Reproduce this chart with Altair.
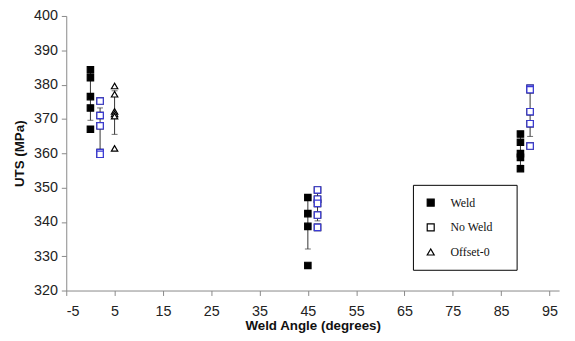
import altair as alt
import pandas as pd

groups = ["Weld", "No Weld", "Offset-0"]

# points: (group, angle, UTS)
weld_x = [0, 45, 89]
weld_vals = [
    [384.3, 382.0, 376.5, 373.2, 367.0],
    [347.1, 342.4, 338.7, 327.3],
    [365.6, 363.2, 359.9, 358.8, 355.5],
]
noweld_x = [2, 47, 91]
noweld_vals = [
    [375.2, 371.0, 368.0, 360.2, 359.7],
    [349.3, 346.6, 345.4, 342.0, 338.4],
    [378.9, 378.5, 372.1, 368.6, 362.1],
]
offset_x = [5]
offset_vals = [
    [379.6, 377.2, 372.2, 371.5, 370.8, 361.4],
]

# error bars (low, high)
weld_err = [(369.6, 383.5), (332.1, 346.5), (356.5, 364.8)]
noweld_err = [(360.2, 373.2), (340.3, 348.5), (364.9, 379.0)]
offset_err = [(365.5, 378.2)]

x_ticks = [-5, 5, 15, 25, 35, 45, 55, 65, 75, 85, 95]
y_ticks = [320, 330, 340, 350, 360, 370, 380, 390, 400]

rows, erows = [], []
for g, xs, vals, errs in [
    ("Weld", weld_x, weld_vals, weld_err),
    ("No Weld", noweld_x, noweld_vals, noweld_err),
    ("Offset-0", offset_x, offset_vals, offset_err),
]:
    for x, vs, (lo, hi) in zip(xs, vals, errs):
        for v in vs:
            rows.append({"group": g, "angle": x, "uts": v})
        erows.append({"group": g, "angle": x, "low": lo, "high": hi})

pts = pd.DataFrame(rows)
errs = pd.DataFrame(erows)

xscale = alt.Scale(domain=[-5, 97], nice=False, zero=False)
yscale = alt.Scale(domain=[320, 400], nice=False, zero=False)

xaxis = alt.Axis(values=x_ticks, title="Weld Angle (degrees)", grid=False,
                 labelExpr="'' + datum.value")
yaxis = alt.Axis(values=y_ticks, title="UTS (MPa)", grid=False)

err_layer = alt.Chart(errs).mark_errorbar(ticks=alt.MarkConfig(size=6, color="#333333"), color="#333333", thickness=1).encode(
    x=alt.X("angle:Q", scale=xscale, axis=xaxis),
    y=alt.Y("low:Q", scale=yscale, axis=yaxis),
    y2="high:Q",
)

pad_txt = "\u2002\u2002\u200b"
leg = alt.Legend(title=None, labelExpr="datum.label + '" + pad_txt + "'")

pt_layer = alt.Chart(pts).mark_point(filled=False, size=42, strokeWidth=1.2, opacity=1).encode(
    x=alt.X("angle:Q", scale=xscale, axis=xaxis),
    y=alt.Y("uts:Q", scale=yscale, axis=yaxis),
    shape=alt.Shape("group:N", scale=alt.Scale(domain=groups, range=["square", "square", "triangle-up"]),
                    legend=leg),
    fill=alt.Fill("group:N", scale=alt.Scale(domain=groups, range=["black", "white", "white"]),
                  legend=leg),
    color=alt.Color("group:N", scale=alt.Scale(domain=groups, range=["black", "black", "black"]),
                    legend=leg),
)

# No Weld points drawn again with their blue outline
blue_layer = alt.Chart(pts).transform_filter(alt.datum.group == "No Weld").mark_point(
    filled=False, shape="square", size=42, strokeWidth=1.2, opacity=1, color="#3a3ad6", fill="white"
).encode(
    x=alt.X("angle:Q", scale=xscale, axis=xaxis),
    y=alt.Y("uts:Q", scale=yscale, axis=yaxis),
)

chart = alt.layer(err_layer, pt_layer, blue_layer).properties(
    width=499, height=278,
    autosize=alt.AutoSizeParams(type="none"),
    padding={"left": 59, "top": 6, "right": 8, "bottom": 45},
).configure_view(stroke=None).configure_axis(
    labelFont="Liberation Sans", labelFontSize=14.5, labelColor="#222222",
    titleFont="Liberation Sans", titleFontSize=13.5, titleFontWeight="bold", titleColor="#111111",
    domainColor="#888888", tickColor="#888888", tickSize=5,
).configure_axisY(titlePadding=7, labelPadding=4).configure_axisX(titlePadding=1, labelPadding=9).configure_legend(
    orient="none", legendX=351, legendY=171,
    strokeColor="black", fillColor="white", padding=12,
    labelFont="Liberation Serif", labelFontSize=12, labelColor="#111111",
    symbolStrokeColor="black", symbolSize=50, rowPadding=13, labelOffset=14,
    symbolStrokeWidth=1.2,
)

chart.save("out.html", embed_options={"renderer": "svg", "actions": False})
